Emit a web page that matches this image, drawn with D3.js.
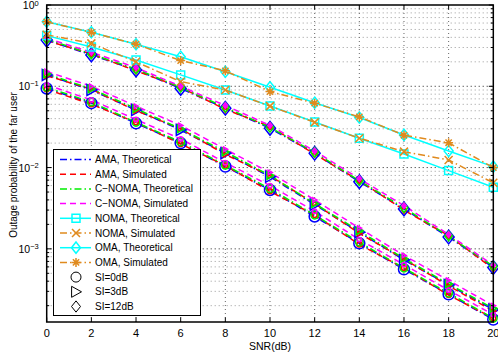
<!DOCTYPE html>
<html>
<head>
<meta charset="utf-8">
<script src="https://cdn.jsdelivr.net/npm/d3@7"></script>
<style>
  body { margin: 0; background: #fff; }
  svg text { font-family: "Liberation Sans", Arial, sans-serif; }
</style>
</head>
<body>
<div id="chart"></div>
<script>
// SNR axis
const snr = [0, 2, 4, 6, 8, 10, 12, 14, 16, 18, 20];
const xTicks = [0, 2, 4, 6, 8, 10, 12, 14, 16, 18, 20];
const yMajor = [1, 1e-1, 1e-2, 1e-3];
const yTickLabels = ['0', '\u22121', '\u22122', '\u22123'];

// SI = 0 dB (circles)
const amaTheo0  = [0.094, 0.062, 0.035, 0.020, 0.0103, 0.0053, 0.0025, 0.00117, 0.00056, 0.000276, 0.000135];
const amaSim0   = [0.092, 0.060, 0.036, 0.0195, 0.0106, 0.0051, 0.0026, 0.00113, 0.00058, 0.00027, 0.00014];
const cnomaTheo0 = [0.097, 0.064, 0.036, 0.0207, 0.0107, 0.0055, 0.0026, 0.00121, 0.00058, 0.000285, 0.00014];
const cnomaSim0  = [0.104, 0.068, 0.039, 0.0225, 0.0115, 0.0060, 0.0029, 0.0013, 0.00064, 0.00031, 0.000155];

// SI = 3 dB (triangles)
const amaTheo3  = [0.138, 0.090, 0.051, 0.029, 0.015, 0.0077, 0.0035, 0.0016, 0.00073, 0.00036, 0.000178];
const amaSim3   = [0.135, 0.092, 0.050, 0.030, 0.0145, 0.0079, 0.0036, 0.00155, 0.00075, 0.00035, 0.000172];
const cnomaTheo3 = [0.142, 0.093, 0.053, 0.030, 0.0156, 0.0080, 0.0036, 0.00166, 0.00076, 0.00037, 0.000185];
const cnomaSim3  = [0.152, 0.100, 0.057, 0.033, 0.0168, 0.0087, 0.0040, 0.0018, 0.00083, 0.00041, 0.00020];

// SI = 12 dB (diamonds)
const amaTheo12  = [0.37, 0.243, 0.159, 0.094, 0.0536, 0.0304, 0.0150, 0.0067, 0.0031, 0.00140, 0.00059];
const amaSim12   = [0.365, 0.250, 0.155, 0.097, 0.052, 0.0320, 0.0146, 0.0069, 0.0030, 0.00145, 0.00057];
const cnomaTheo12 = [0.38, 0.250, 0.163, 0.097, 0.055, 0.0312, 0.0154, 0.0069, 0.0032, 0.00144, 0.00061];
const cnomaSim12  = [0.39, 0.262, 0.170, 0.100, 0.058, 0.0330, 0.0160, 0.0073, 0.0034, 0.00150, 0.00063];

// NOMA / OMA
const nomaTheo = [0.42, 0.304, 0.211, 0.138, 0.090, 0.0573, 0.0364, 0.0229, 0.0147, 0.00917, 0.00573];
const nomaSim  = [0.43, 0.337, 0.200, 0.114, 0.090, 0.057, 0.0360, 0.0230, 0.0157, 0.0124, 0.0065];
const omaTheo  = [0.623, 0.462, 0.329, 0.231, 0.151, 0.0972, 0.0628, 0.0413, 0.0252, 0.0160, 0.01026];
const omaSim   = [0.62, 0.460, 0.330, 0.207, 0.155, 0.086, 0.062, 0.042, 0.025, 0.0202, 0.0100];

const legendLabels = ['AMA, Theoretical', 'AMA, Simulated', 'C\u2212NOMA, Theoretical', 'C\u2212NOMA, Simulated',
  'NOMA, Theoretical', 'NOMA, Simulated', 'OMA, Theoretical', 'OMA, Simulated',
  'SI=0dB', 'SI=3dB', 'SI=12dB'];

const W = 498, H = 358;
const margin = {top: 5, right: 4.7, bottom: 36, left: 46.7};
const width = W - margin.left - margin.right;
const height = H - margin.top - margin.bottom;

const svg = d3.select('#chart').append('svg')
  .attr('width', W).attr('height', H);
const g = svg.append('g')
  .attr('transform', 'translate(' + margin.left + ',' + margin.top + ')');

const x = d3.scaleLinear().domain([0, 20]).range([0, width]);
const y = d3.scaleLog().domain([Math.pow(10, -3.9), 1]).range([height, 0]);

// minor ticks
const yMinor = [];
yMajor.concat([1e-4]).forEach(base => {
  for (let k = 2; k <= 9; k++) {
    const v = base * k;
    if (v < 1 && v >= y.domain()[0]) yMinor.push(v);
  }
});

const blue = '#0000ff', red = '#ff0000', green = '#00ee00', magenta = '#ff00ff';
const cyan = '#00ffff', orange = '#e08a1e';
const dashDot = '7,3,1.5,3';
const dashed = '6,4';

// grid
g.append('g').selectAll('line').data(yMinor).join('line')
  .attr('x1', 0).attr('x2', width)
  .attr('y1', d => y(d)).attr('y2', d => y(d))
  .attr('stroke', '#9a9a9a').attr('stroke-width', 1).attr('stroke-dasharray', '1,3');
g.append('g').selectAll('line').data(yMajor.slice(1)).join('line')
  .attr('x1', 0).attr('x2', width)
  .attr('y1', d => y(d)).attr('y2', d => y(d))
  .attr('stroke', '#222').attr('stroke-width', 1).attr('stroke-dasharray', '1,3');
g.append('g').selectAll('line').data(xTicks.slice(1, -1)).join('line')
  .attr('x1', d => x(d)).attr('x2', d => x(d))
  .attr('y1', 0).attr('y2', height)
  .attr('stroke', '#666').attr('stroke-width', 1).attr('stroke-dasharray', '1,3');

// symbol paths
function shape(type, r) {
  if (type === 'circle') {
    return 'M' + r + ',0A' + r + ',' + r + ' 0 1,1 ' + (-r) + ',0A' + r + ',' + r + ' 0 1,1 ' + r + ',0Z';
  }
  if (type === 'tri') {
    return 'M' + r + ',0L' + (-r * 0.8) + ',' + (-r) + 'L' + (-r * 0.8) + ',' + r + 'Z';
  }
  if (type === 'diamond') {
    return 'M0,' + (-r * 1.25) + 'L' + r + ',0L0,' + (r * 1.25) + 'L' + (-r) + ',0Z';
  }
  if (type === 'square') {
    return 'M' + (-r) + ',' + (-r) + 'H' + r + 'V' + r + 'H' + (-r) + 'Z';
  }
  if (type === 'x') {
    return 'M' + (-r) + ',' + (-r) + 'L' + r + ',' + r + 'M' + (-r) + ',' + r + 'L' + r + ',' + (-r);
  }
  if (type === 'star') {
    const a = r * 0.7;
    return 'M' + (-r) + ',0H' + r + 'M0,' + (-r) + 'V' + r +
      'M' + (-a) + ',' + (-a) + 'L' + a + ',' + a + 'M' + (-a) + ',' + a + 'L' + a + ',' + (-a);
  }
  return '';
}

const groups = [
  {shape: 'diamond', data: [amaTheo12, amaSim12, cnomaTheo12, cnomaSim12]},
  {shape: 'tri', data: [amaTheo3, amaSim3, cnomaTheo3, cnomaSim3]},
  {shape: 'circle', data: [amaTheo0, amaSim0, cnomaTheo0, cnomaSim0]}
];
const groupStyles = [
  {color: blue, dash: dashDot, r: 5.5},
  {color: red, dash: dashed, r: 2.5},
  {color: green, dash: dashDot, r: 3.8},
  {color: magenta, dash: dashed, r: 2.2}
];

const line = d3.line().x((d, i) => x(snr[i])).y(d => y(d));

const plot = g.append('g');
groups.forEach(grp => {
  grp.data.forEach((vals, k) => {
    const st = groupStyles[k];
    plot.append('path').datum(vals)
      .attr('d', line).attr('fill', 'none')
      .attr('stroke', st.color).attr('stroke-width', 1.5)
      .attr('stroke-dasharray', st.dash);
  });
});
groups.forEach(grp => {
  grp.data.forEach((vals, k) => {
    const st = groupStyles[k];
    plot.append('g').selectAll('path').data(vals).join('path')
      .attr('transform', (d, i) => 'translate(' + x(snr[i]) + ',' + y(d) + ')')
      .attr('d', shape(grp.shape, st.r))
      .attr('fill', grp.shape === 'diamond' && k === 3 ? magenta : 'none')
      .attr('stroke', st.color).attr('stroke-width', 1.5);
  });
});

const topSeries = [
  {data: nomaTheo, color: cyan, dash: null, shape: 'square', r: 4},
  {data: nomaSim, color: orange, dash: dashDot, shape: 'x', r: 4},
  {data: omaTheo, color: cyan, dash: null, shape: 'diamond', r: 4.5},
  {data: omaSim, color: orange, dash: dashDot, shape: 'star', r: 4.5}
];
topSeries.forEach(s => {
  plot.append('path').datum(s.data)
    .attr('d', line).attr('fill', 'none')
    .attr('stroke', s.color).attr('stroke-width', 1.5)
    .attr('stroke-dasharray', s.dash);
  plot.append('g').selectAll('path').data(s.data).join('path')
    .attr('transform', (d, i) => 'translate(' + x(snr[i]) + ',' + y(d) + ')')
    .attr('d', shape(s.shape, s.r))
    .attr('fill', 'none').attr('stroke', s.color).attr('stroke-width', 1.5);
});

// ticks (inward, both sides)
const ticks = g.append('g').attr('stroke', '#000').attr('stroke-width', 1);
xTicks.forEach(t => {
  ticks.append('line').attr('x1', x(t)).attr('x2', x(t)).attr('y1', height).attr('y2', height - 4.5);
  ticks.append('line').attr('x1', x(t)).attr('x2', x(t)).attr('y1', 0).attr('y2', 4.5);
});
yMajor.forEach(t => {
  ticks.append('line').attr('x1', 0).attr('x2', 4.5).attr('y1', y(t)).attr('y2', y(t));
  ticks.append('line').attr('x1', width).attr('x2', width - 4.5).attr('y1', y(t)).attr('y2', y(t));
});
yMinor.forEach(t => {
  ticks.append('line').attr('x1', 0).attr('x2', 2.5).attr('y1', y(t)).attr('y2', y(t));
  ticks.append('line').attr('x1', width).attr('x2', width - 2.5).attr('y1', y(t)).attr('y2', y(t));
});

// box
g.append('rect').attr('x', 0).attr('y', 0).attr('width', width).attr('height', height)
  .attr('fill', 'none').attr('stroke', '#000').attr('stroke-width', 1.5);

// tick labels
g.append('g').selectAll('text').data(xTicks).join('text')
  .attr('x', d => x(d)).attr('y', height + 15)
  .attr('text-anchor', 'middle').attr('font-size', 11).text(d => d);

yMajor.forEach((t, i) => {
  const tx = g.append('text').attr('x', -8).attr('y', y(t) + 4)
    .attr('text-anchor', 'end').attr('font-size', 10.5);
  tx.append('tspan').text('10');
  tx.append('tspan').attr('dy', i === 0 ? -3 : -4).attr('font-size', 7.5).text(yTickLabels[i]);
});

svg.append('text').attr('x', margin.left + x(10)).attr('y', 350)
  .attr('text-anchor', 'middle').attr('font-size', 10.5).text('SNR(dB)');
svg.append('text')
  .attr('transform', 'translate(17,165) rotate(-90)')
  .attr('text-anchor', 'middle').attr('font-size', 10)
  .text('Outage probability of the far user');

// legend
const lg = svg.append('g');
lg.append('rect').attr('x', 53.5).attr('y', 149.5).attr('width', 147).attr('height', 166)
  .attr('fill', '#fff').attr('stroke', '#000').attr('stroke-width', 1);
const legendStyles = [
  {color: blue, dash: dashDot, shape: null},
  {color: red, dash: dashed, shape: null},
  {color: green, dash: dashDot, shape: null},
  {color: magenta, dash: dashed, shape: null},
  {color: cyan, dash: null, shape: 'square', r: 4},
  {color: orange, dash: dashDot, shape: 'x', r: 4},
  {color: cyan, dash: null, shape: 'diamond', r: 4.5},
  {color: orange, dash: dashDot, shape: 'star', r: 4.5},
  {color: null, shape: 'circle', r: 5, mark: '#000'},
  {color: null, shape: 'tri', r: 5.5, mark: '#000'},
  {color: null, shape: 'diamond', r: 4.5, mark: '#000'}
];
legendLabels.forEach((lab, i) => {
  const cy = 159.5 + i * 14.7;
  const st = legendStyles[i];
  if (st.color) {
    lg.append('line').attr('x1', 60).attr('x2', 91).attr('y1', cy).attr('y2', cy)
      .attr('stroke', st.color).attr('stroke-width', 1.5).attr('stroke-dasharray', st.dash);
  }
  if (st.shape) {
    lg.append('path').attr('transform', 'translate(76,' + cy + ')')
      .attr('d', shape(st.shape, st.r)).attr('fill', 'none')
      .attr('stroke', st.mark || st.color).attr('stroke-width', st.mark ? 1 : 1.5);
  }
  lg.append('text').attr('x', 95).attr('y', cy + 3.5).attr('font-size', 10).text(lab);
});
</script>
</body>
</html>
